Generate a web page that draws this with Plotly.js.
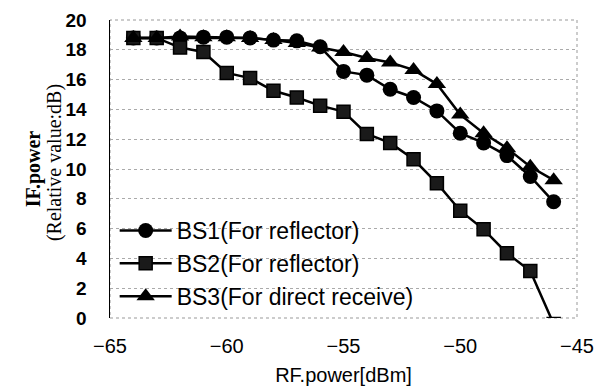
<!DOCTYPE html>
<html>
<head>
<meta charset="utf-8">
<script src="https://cdn.plot.ly/plotly-3.0.1.min.js"></script>
<style>html,body{margin:0;padding:0;background:#fff;}#chart{width:609px;height:387px;}</style>
</head>
<body>
<div id="chart"></div>
<script>
const rfPower = [-64,-63,-62,-61,-60,-59,-58,-57,-56,-55,-54,-53,-52,-51,-50,-49,-48,-47,-46];
const bs1 = [18.8,18.8,18.8,18.85,18.85,18.8,18.65,18.6,18.2,16.55,16.3,15.35,14.8,13.9,12.4,11.75,10.9,9.5,7.8];
const bs2 = [18.8,18.8,18.15,17.85,16.45,16.1,15.25,14.8,14.25,13.85,12.35,11.75,10.65,9.05,7.2,5.95,4.35,3.15,-0.4];
const bs3 = [18.8,18.8,18.9,18.85,18.85,18.8,18.65,18.45,18.15,17.85,17.45,17.15,16.65,15.7,13.65,12.4,11.4,10.15,9.25];
const seriesNames = ["BS1(For reflector)","BS2(For reflector)","BS3(For direct receive)"];
const xTicks = [-65,-60,-55,-50,-45];
const yTicks = [0,2,4,6,8,10,12,14,16,18,20];
const yTitle1 = "IF.power";
const yTitle2 = "(Relative value:dB)";

const lineStyle = {color:'#000', width:2.5};
const traces = [
  {x: rfPower, y: bs1, name: seriesNames[0], mode:'lines+markers', line: lineStyle,
   marker:{symbol:'circle', size:15, color:'#000'}},
  {x: rfPower, y: bs2, name: seriesNames[1], mode:'lines+markers', line: lineStyle,
   marker:{symbol:'square', size:13, color:'#1a1a1a', line:{color:'#000', width:1.5}}},
  {x: rfPower, y: bs3, name: seriesNames[2], mode:'lines+markers', line: lineStyle,
   marker:{symbol:'triangle-up', size:16, color:'#000'}}
];

const layout = {
  width:609, height:387,
  margin:{l:110, r:32, t:20, b:69},
  paper_bgcolor:'#fff', plot_bgcolor:'#fff',
  showlegend:true,
  font:{family:'"Liberation Sans", Arial, sans-serif', color:'#000'},
  xaxis:{
    range:[-65,-45], tickvals:xTicks, ticktext: xTicks.map(v=>'\u2212'+Math.abs(v)),
    showgrid:false, zeroline:false, showline:false, ticks:'',
    ticklabelstandoff: 14,
    tickfont:{size:20, family:'"Liberation Sans", Arial, sans-serif', color:'#000'},
    title:{text:'RF.power[dBm]', font:{size:20, family:'"Liberation Sans", Arial, sans-serif', color:'#000'}, standoff:11}
  },
  yaxis:{
    range:[0,20], tickvals:yTicks,
    showgrid:true, gridcolor:'#aaa', griddash:'dot', gridwidth:1,
    zeroline:false, showline:true, linecolor:'#000', linewidth:1.5, ticks:'',
    ticklabelstandoff: 18,
    tickfont:{size:19, family:'"Liberation Sans", Arial, sans-serif', color:'#000', weight:'bold'},
    title:{text:'<b>'+yTitle1+'</b>', font:{size:20, family:'"Liberation Serif", "Times New Roman", serif', color:'#000'}, standoff:19}
  },
  annotations:[
    {text: yTitle2, xref:'paper', yref:'paper', x:-0.12, y:0.523, xanchor:'center', yanchor:'middle',
     textangle:-90, showarrow:false, font:{size:20, family:'"Liberation Serif", "Times New Roman", serif', color:'#000'}}
  ],
  legend:{
    x:0.01, y:0.0, xanchor:'left', yanchor:'bottom',
    bgcolor:'rgba(255,255,255,0)', borderwidth:0,
    font:{size:23, family:'"Liberation Sans", Arial, sans-serif', color:'#000'},
    itemwidth:52, tracegroupgap:0
  },
  shapes:[
    {type:'rect', xref:'paper', yref:'paper', x0:0, x1:1, y0:0, y1:1,
     line:{color:'#999', width:1, dash:'dot'}, layer:'below'}
  ]
};

Plotly.newPlot('chart', traces, layout, {displayModeBar:false, staticPlot:true});
</script>
</body>
</html>
